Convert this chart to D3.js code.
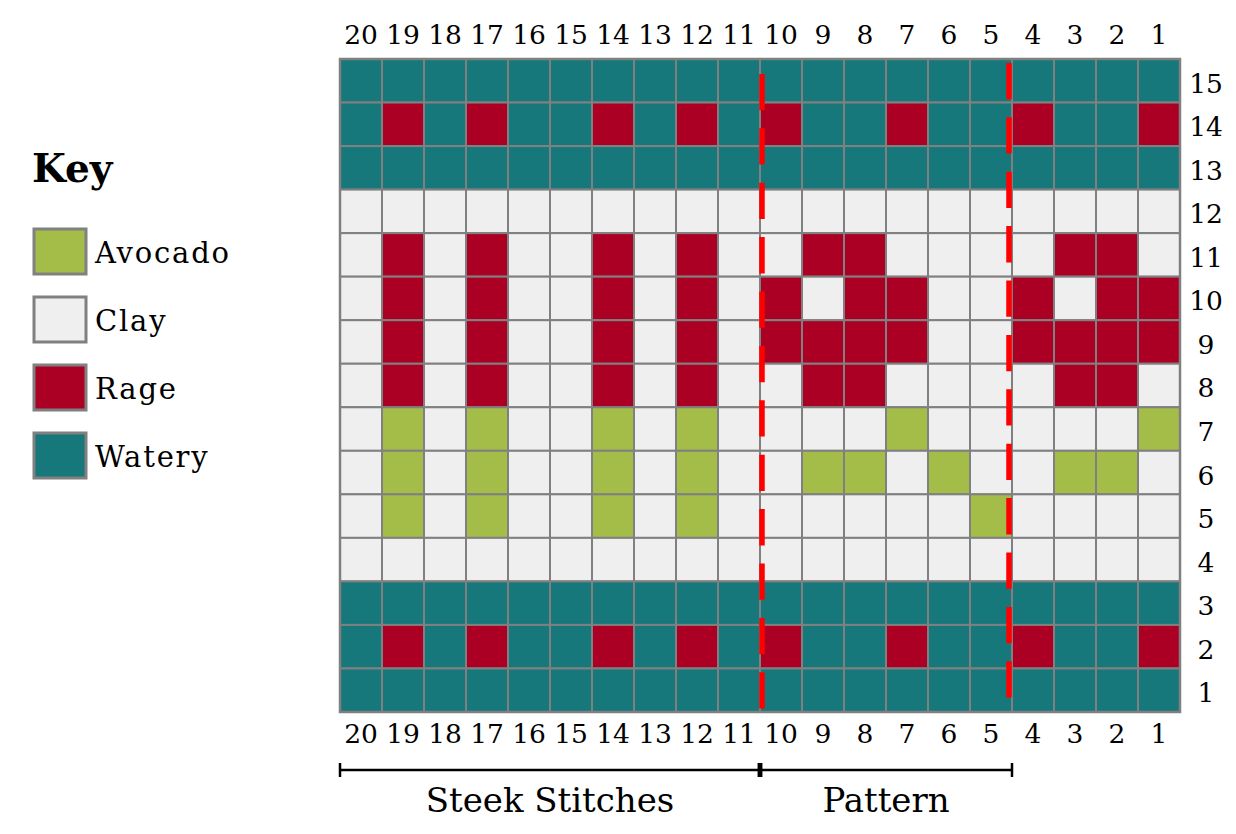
<!DOCTYPE html>
<html>
<head>
<meta charset="utf-8">
<script src="https://cdn.jsdelivr.net/npm/d3@7"></script>
<style>
  html, body { margin: 0; padding: 0; background: #fff; }
  svg { display: block; }
  text { font-family: "DejaVu Serif", serif; fill: #000; }
</style>
</head>
<body>
<svg id="chart" width="1236" height="834"></svg>
<script>
// ---------- data ----------
const columns = ["20","19","18","17","16","15","14","13","12","11","10","9","8","7","6","5","4","3","2","1"];
const rowLabels = ["15","14","13","12","11","10","9","8","7","6","5","4","3","2","1"];
const yarnNames = ["Avocado", "Clay", "Rage", "Watery"];
const yarnCodes = ["A", "C", "R", "W"];
const yarnColors = ["#a3bd48", "#efefef", "#ab0024", "#17787b"];
// one string per row (top row 15 → bottom row 1), characters for columns 20 → 1
const chartRows = [
  "WWWWWWWWWWWWWWWWWWWW", // 15
  "WRWRWWRWRWRWWRWWRWWR", // 14
  "WWWWWWWWWWWWWWWWWWWW", // 13
  "CCCCCCCCCCCCCCCCCCCC", // 12
  "CRCRCCRCRCCRRCCCCRRC", // 11
  "CRCRCCRCRCRCRRCCRCRR", // 10
  "CRCRCCRCRCRRRRCCRRRR", // 9
  "CRCRCCRCRCCRRCCCCRRC", // 8
  "CACACCACACCCCACCCCCA", // 7
  "CACACCACACCAACACCAAC", // 6
  "CACACCACACCCCCCACCCC", // 5
  "CCCCCCCCCCCCCCCCCCCC", // 4
  "WWWWWWWWWWWWWWWWWWWW", // 3
  "WRWRWWRWRWRWWRWWRWWR", // 2
  "WWWWWWWWWWWWWWWWWWWW"  // 1
];
const sections = [
  { label: "Steek Stitches", from: "20", to: "11" },
  { label: "Pattern", from: "10", to: "5" }
];
const dividerAfter = ["11", "5"]; // red dashed lines to the right of these columns

// ---------- layout ----------
const svg = d3.select("#chart");
const gridLeft = 340, gridRight = 1180, gridTop = 59, gridBottom = 712;

const x = d3.scaleBand().domain(columns).range([gridLeft, gridRight]);
const y = d3.scaleBand().domain(rowLabels).range([gridTop, gridBottom]);
const color = d3.scaleOrdinal().domain(yarnCodes).range(yarnColors);

const cells = [];
chartRows.forEach((str, ri) => {
  str.split("").forEach((c, ci) => {
    cells.push({ row: rowLabels[ri], col: columns[ci], code: c });
  });
});

// cells
svg.append("g").selectAll("rect").data(cells).join("rect")
  .attr("x", d => x(d.col))
  .attr("y", d => y(d.row))
  .attr("width", x.bandwidth())
  .attr("height", y.bandwidth())
  .attr("fill", d => color(d.code))
  .attr("stroke", "#808080")
  .attr("stroke-width", 2);

// outer border
svg.append("rect")
  .attr("x", gridLeft).attr("y", gridTop)
  .attr("width", gridRight - gridLeft).attr("height", gridBottom - gridTop)
  .attr("fill", "none").attr("stroke", "#808080").attr("stroke-width", 2.5);

// red dashed dividers
const divOffsets = [2, -3];
const dashPhase = [39.5, 50.5];
dividerAfter.forEach((c, i) => {
  const xx = x(c) + x.bandwidth() + divOffsets[i];
  svg.append("line")
    .attr("x1", xx).attr("x2", xx)
    .attr("y1", gridTop).attr("y2", gridBottom - 3)
    .attr("stroke", "#ff0000")
    .attr("stroke-width", 5.5)
    .attr("stroke-dasharray", "36.3,18.1")
    .attr("stroke-dashoffset", dashPhase[i]);
});

// axes
function styleAxis(g, size) {
  g.select(".domain").remove();
  g.selectAll("line").remove();
  g.selectAll("text")
    .style("font-family", '"DejaVu Serif", serif')
    .style("font-size", size + "px")
    .attr("fill", "#000");
}
svg.append("g")
  .attr("transform", `translate(0,${gridTop - 15})`)
  .call(d3.axisTop(x).tickSize(0).tickPadding(0))
  .call(g => styleAxis(g, 26.5));
svg.append("g")
  .attr("transform", `translate(0,${gridBottom + 12})`)
  .call(d3.axisBottom(x).tickSize(0).tickPadding(0))
  .call(g => styleAxis(g, 26.5));
svg.append("g")
  .attr("transform", `translate(${gridRight + 26},0)`)
  .call(d3.axisRight(y).tickSize(0).tickPadding(0))
  .call(g => styleAxis(g, 26.5))
  .call(g => g.selectAll("text").attr("text-anchor", "middle").attr("dy", "0.45em"));

// section brackets
const bracketY = 770;
sections.forEach(s => {
  const x1 = x(s.from), x2 = x(s.to) + x.bandwidth();
  const g = svg.append("g");
  g.append("line").attr("x1", x1).attr("x2", x2).attr("y1", bracketY).attr("y2", bracketY)
    .attr("stroke", "#000").attr("stroke-width", 2.5);
  [x1, x2].forEach(xx => {
    const shared = sections.some(o => o !== s && (x(o.from) === xx || x(o.to) + x.bandwidth() === xx));
    g.append("line").attr("x1", xx).attr("x2", xx)
      .attr("y1", bracketY - 7).attr("y2", bracketY + 7)
      .attr("stroke", "#000").attr("stroke-width", shared ? 4.5 : 2.5);
  });
  g.append("text")
    .attr("x", (x1 + x2) / 2).attr("y", 812)
    .attr("text-anchor", "middle")
    .style("font-size", "34px")
    .text(s.label);
});

// legend
svg.append("text")
  .attr("x", 32).attr("y", 182)
  .style("font-size", "39px").style("font-weight", "bold")
  .text("Key");
const legend = svg.append("g").selectAll("g").data(yarnNames).join("g")
  .attr("transform", (d, i) => `translate(34,${229 + i * 68})`);
legend.append("rect")
  .attr("width", 52).attr("height", 45)
  .attr("fill", (d, i) => yarnColors[i])
  .attr("stroke", "#808080").attr("stroke-width", 3);
legend.append("text")
  .attr("x", 61).attr("y", 34)
  .style("font-size", "29px")
  .style("letter-spacing", "1.8px")
  .text(d => d);
</script>
</body>
</html>
